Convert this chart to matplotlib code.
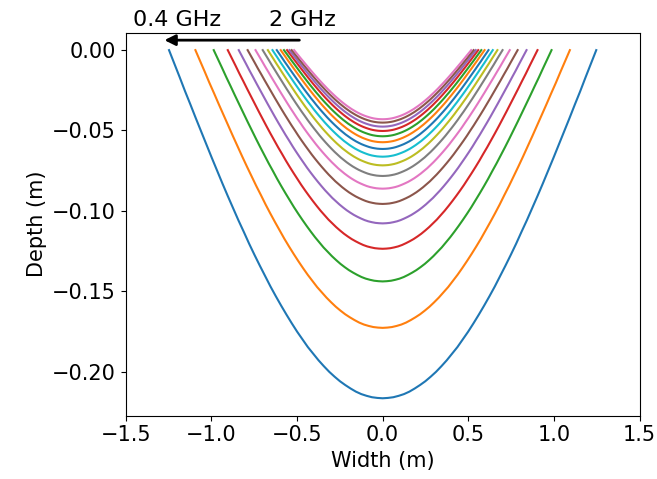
import numpy as np
import matplotlib
matplotlib.use('Agg')
import matplotlib.pyplot as plt

# frequencies (GHz), one curve each
freqs = [0.4, 0.5, 0.6, 0.7, 0.8, 0.9, 1.0, 1.1, 1.2, 1.3, 1.4, 1.5, 1.6, 1.7, 1.8, 1.9, 2.0]

# depth at centre (m) and half width at the surface (m)
depths = [0.2166, 0.1728, 0.1439, 0.1236, 0.1078, 0.0957, 0.0862, 0.0783, 0.0717,
          0.0663, 0.0615, 0.0573, 0.0536, 0.0503, 0.0476, 0.0451, 0.0430]
half_widths = [1.247, 1.093, 0.986, 0.904, 0.840, 0.788, 0.742, 0.700, 0.670,
               0.643, 0.618, 0.595, 0.576, 0.558, 0.544, 0.531, 0.517]

# normalised profile (x / half width -> depth fraction)
prof_u = [0.0, 0.025, 0.05, 0.075, 0.10, 0.125, 0.15, 0.175, 0.20, 0.225, 0.25,
          0.275, 0.30, 0.325, 0.35, 0.375, 0.40, 0.425, 0.45, 0.475, 0.50,
          0.525, 0.55, 0.575, 0.60, 0.625, 0.65, 0.675, 0.70, 0.725, 0.75,
          0.775, 0.80, 0.825, 0.85, 0.875, 0.90, 0.925, 0.95, 0.975, 1.0]
prof_t = [1.0, 0.999, 0.997, 0.993, 0.988, 0.981, 0.972, 0.962, 0.951, 0.938, 0.924,
          0.908, 0.891, 0.872, 0.853, 0.831, 0.809, 0.785, 0.760, 0.734, 0.707,
          0.679, 0.649, 0.619, 0.588, 0.556, 0.522, 0.489, 0.454, 0.419, 0.383,
          0.346, 0.309, 0.271, 0.233, 0.195, 0.156, 0.118, 0.078, 0.039, 0.0]

u = np.array(prof_u)
t = np.array(prof_t)
u_full = np.concatenate([-u[::-1], u[1:]])
t_full = np.concatenate([t[::-1], t[1:]])

fig = plt.figure(figsize=(6.57, 4.79), dpi=100)
ax = fig.add_subplot(111)
fig.subplots_adjust(left=0.1913, right=0.9735, bottom=0.1322, top=0.9317)

for f, d, w in zip(freqs, depths, half_widths):
    ax.plot(u_full * w, -t_full * d, lw=1.5)

ax.set_xlim(-1.5, 1.5)
ax.set_xlabel('Width (m)', fontsize=15)
ax.set_ylabel('Depth (m)', fontsize=15)
ax.tick_params(labelsize=15)

ax.annotate('', xy=(-1.29, 0.0062), xytext=(-0.47, 0.0062),
            arrowprops=dict(arrowstyle='-|>', lw=2, color='black', mutation_scale=16),
            annotation_clip=False)
ax.text(-1.2, 0.0187, '0.4 GHz', fontsize=16, ha='center', va='center', clip_on=False)
ax.text(-0.47, 0.0187, '2 GHz', fontsize=16, ha='center', va='center', clip_on=False)

plt.savefig('out.png', dpi=100)
